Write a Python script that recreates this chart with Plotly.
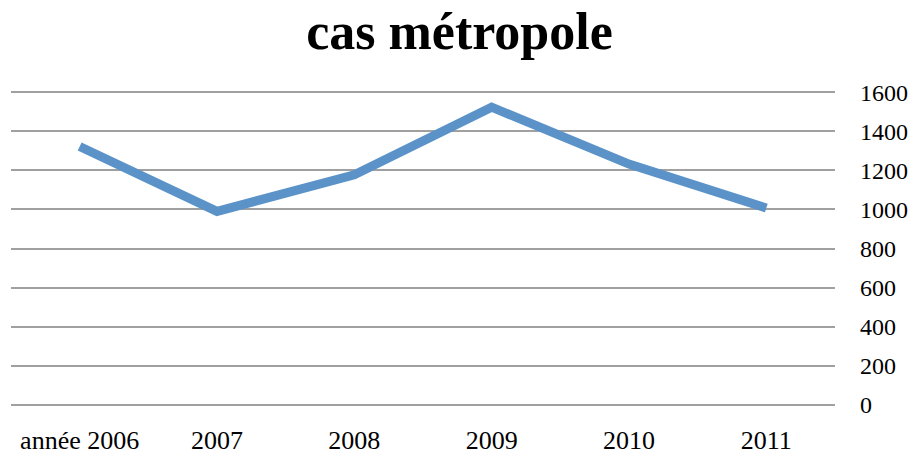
import plotly.graph_objects as go

categories = ["année 2006", "2007", "2008", "2009", "2010", "2011"]
values = [1322, 990, 1177, 1523, 1232, 1007]
y_ticks = [0, 200, 400, 600, 800, 1000, 1200, 1400, 1600]

fig = go.Figure()
fig.add_trace(go.Scatter(
    x=categories, y=values, mode="lines",
    line=dict(color="#5B93C9", width=9),
    hoverinfo="skip", showlegend=False,
))

fig.update_layout(
    width=919, height=455,
    margin=dict(l=11, r=84, t=89, b=47),
    paper_bgcolor="white", plot_bgcolor="white",
    title=dict(
        text="<b>cas métropole</b>",
        x=0.5, xanchor="center", y=0.973, yanchor="top",
        font=dict(family="Liberation Serif", size=52, color="black"),
    ),
    font=dict(family="Liberation Serif", color="black"),
    xaxis=dict(
        type="category", range=[-0.5, 5.5], automargin=False,
        showgrid=False, zeroline=False, showline=False, ticks="",
        tickfont=dict(size=26, family="Liberation Serif", color="black"),
        ticklabelstandoff=14,
    ),
    yaxis=dict(
        side="right", range=[-16, 1616], tickvals=y_ticks, automargin=False,
        showgrid=True, gridcolor="#A0A0A0", gridwidth=2,
        zeroline=False, showline=False, ticks="",
        tickfont=dict(size=24, family="Liberation Serif", color="black"),
        ticklabelstandoff=24,
    ),
)

fig.write_html("out.html", config={"displayModeBar": False, "staticPlot": True})

with open("out.html", "r", encoding="utf-8") as f:
    html = f.read()
html = html.replace("<head>", "<head><style>html,body{margin:0;padding:0;overflow:hidden;}</style>", 1)
with open("out.html", "w", encoding="utf-8") as f:
    f.write(html)
